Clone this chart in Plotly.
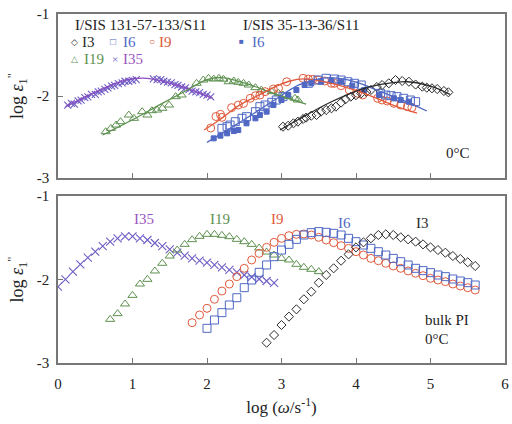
import plotly.graph_objects as go

# ---------------- colours ----------------
C_I3 = "#2b2b2b"
C_I6 = "#5068c4"
C_I9 = "#e05a3c"
C_I19 = "#5e9150"
C_I35_LINE = "#8a4cc0"
C_I35_MK = "#6f5cc4"
C_I35_TXT = "#9a55c0"

# ---------------- upper panel: I/SIS blends (markers + fit curves) ----------------
top_I35_x = [0.13, 0.18, 0.22, 0.27, 0.31, 0.36, 0.40, 0.45, 0.50, 0.54, 0.58, 0.63, 0.67,
             0.72, 0.76, 0.81, 0.86, 0.90, 0.95, 1.00, 1.05, 1.28, 1.33, 1.38, 1.42, 1.47,
             1.52, 1.57, 1.61, 1.66, 1.71, 1.76, 1.80, 1.85, 1.90, 1.95, 2.00, 2.05]
top_I35_y = [-2.11, -2.09, -2.10, -2.06, -2.05, -2.02, -2.01, -1.98, -1.98, -1.95, -1.94, -1.92, -1.90,
             -1.88, -1.87, -1.85, -1.84, -1.82, -1.82, -1.81, -1.80, -1.79, -1.80, -1.80, -1.82, -1.83,
             -1.84, -1.86, -1.87, -1.89, -1.90, -1.92, -1.94, -1.95, -1.96, -1.98, -1.99, -2.01]
fit_I35_x = [0.10, 0.44, 0.89, 1.20, 1.64, 1.90, 2.08]
fit_I35_y = [-2.13, -1.98, -1.81, -1.785, -1.88, -1.965, -2.03]

top_I19_x = [0.64, 0.71, 0.78, 0.84, 0.95, 1.02, 1.13, 1.20, 1.26, 1.33, 1.40, 1.49, 1.58, 1.66,
             1.86, 1.95, 2.02, 2.09, 2.16, 2.22, 2.29, 2.36, 2.42, 2.49, 2.56, 2.65, 2.73, 2.87,
             2.96, 3.02, 3.09, 3.18, 3.22]
top_I19_y = [-2.435, -2.394, -2.354, -2.313, -2.232, -2.272, -2.191, -2.232, -2.179, -2.171, -2.150,
             -2.110, -2.008, -1.988, -1.845, -1.805, -1.784, -1.793, -1.784, -1.795, -1.826, -1.817,
             -1.833, -1.845, -1.866, -1.898, -1.927, -1.947, -1.967, -1.988, -2.008, -2.028, -2.049]
fit_I19_x = [0.60, 1.00, 1.40, 1.73, 2.00, 2.20, 2.50, 2.90, 3.33]
fit_I19_y = [-2.475, -2.29, -2.09, -1.93, -1.80, -1.775, -1.84, -1.97, -2.10]

top_I9_x = [2.05, 2.12, 2.18, 2.20, 2.33, 2.42, 2.49, 2.58, 2.65, 2.71, 2.78, 2.89, 2.96, 3.07,
            3.29, 3.36, 3.42, 3.49, 3.58, 3.67, 3.71, 3.80, 3.91, 4.02, 4.09, 4.29, 4.35, 4.42,
            4.51, 4.60, 4.69, 4.75]
top_I9_y = [-2.39, -2.25, -2.223, -2.26, -2.142, -2.11, -2.09, -2.028, -1.996, -1.988, -1.947,
            -1.915, -1.906, -1.826, -1.784, -1.793, -1.797, -1.805, -1.817, -1.845, -1.845, -1.874,
            -1.927, -1.967, -1.988, -2.028, -2.049, -2.061, -2.089, -2.110, -2.130, -2.142]
fit_I9_x = [1.96, 2.20, 2.42, 2.65, 2.87, 3.10, 3.30, 3.67, 4.11, 4.55, 4.82]
fit_I9_y = [-2.415, -2.27, -2.12, -2.01, -1.906, -1.82, -1.79, -1.845, -1.967, -2.13, -2.21]

top_I6_x = [2.20, 2.27, 2.31, 2.38, 2.47, 2.53, 2.65, 2.71, 2.78, 2.87, 2.93, 3.02,
            3.36, 3.49, 3.60, 3.71, 3.80, 3.89, 3.98, 4.07, 4.33, 4.40, 4.47, 4.55, 4.64,
            4.73, 4.80]
top_I6_y = [-2.394, -2.374, -2.354, -2.313, -2.272, -2.252, -2.191, -2.130, -2.110, -2.077,
            -2.049, -2.008, -1.845, -1.805, -1.784, -1.793, -1.805, -1.826, -1.845, -1.866,
            -1.967, -1.988, -1.996, -2.008, -2.028, -2.049, -2.069]
# I/SIS 35-13-36/S11, I6 (filled squares)
top_I6b_x = [2.09, 2.18, 2.27, 2.36, 2.42, 2.53, 2.65, 2.71, 2.80, 2.89, 3.00, 3.09, 3.20,
             3.31, 3.40, 3.53, 3.67, 3.80, 3.95, 4.11, 4.31, 4.51, 4.60, 4.71]
top_I6b_y = [-2.516, -2.484, -2.455, -2.427, -2.415, -2.333, -2.272, -2.232, -2.191, -2.110,
             -2.049, -1.988, -1.927, -1.866, -1.845, -1.826, -1.817, -1.826, -1.874, -1.927,
             -1.988, -2.028, -2.049, -2.069]
fit_I6_x = [2.00, 2.42, 2.87, 3.22, 3.45, 3.67, 4.00, 4.33, 4.65, 4.95]
fit_I6_y = [-2.565, -2.333, -2.07, -1.87, -1.80, -1.776, -1.83, -1.947, -2.06, -2.183]

top_I3_x = [3.02, 3.09, 3.16, 3.22, 3.29, 3.33, 3.40, 3.47, 3.53, 3.60, 3.67, 3.73, 3.80,
            3.86, 3.93, 4.00, 4.07, 4.14, 4.20, 4.28, 4.35, 4.44, 4.53, 4.62, 4.71, 4.80,
            4.89, 4.95, 5.02, 5.09, 5.18, 5.24]
top_I3_y = [-2.374, -2.362, -2.333, -2.313, -2.280, -2.264, -2.240, -2.232, -2.191, -2.171,
            -2.150, -2.130, -2.080, -2.040, -2.008, -1.990, -1.967, -1.950, -1.927, -1.890,
            -1.866, -1.845, -1.805, -1.817, -1.826, -1.860, -1.886, -1.898, -1.906, -1.915,
            -1.939, -1.955]
fit_I3_x = [2.98, 3.22, 3.67, 4.11, 4.40, 4.69, 5.00, 5.26]
fit_I3_y = [-2.415, -2.29, -2.07, -1.906, -1.85, -1.826, -1.88, -1.98]

# ---------------- lower panel: bulk PI ----------------
bulk_I35_x = [round(0.1 * i, 1) for i in range(0, 30)]          # 0.0 .. 2.9
bulk_I35_y = [-2.086, -1.998, -1.906, -1.818, -1.739, -1.667, -1.599, -1.547, -1.507, -1.483,
              -1.483, -1.507, -1.527, -1.563, -1.599, -1.639, -1.679, -1.715, -1.747, -1.775,
              -1.799, -1.826, -1.854, -1.886, -1.914, -1.946, -1.970, -1.994, -2.018, -2.040]

bulk_I19_x = [round(0.1 * i, 1) for i in range(7, 36)]          # 0.7 .. 3.5
bulk_I19_y = [-2.477, -2.409, -2.293, -2.190, -2.054, -1.998, -1.898, -1.806, -1.719, -1.647,
              -1.579, -1.523, -1.483, -1.459, -1.459, -1.471, -1.487, -1.519, -1.547, -1.579,
              -1.623, -1.671, -1.707, -1.747, -1.766, -1.818, -1.854, -1.878, -1.906]

bulk_I9_x = [round(0.1 * i, 1) for i in range(18, 57)]          # 1.8 .. 5.6
bulk_I9_y = [-2.517, -2.425, -2.345, -2.237, -2.138, -2.054, -1.966, -1.866, -1.766, -1.687,
             -1.615, -1.555, -1.507, -1.475, -1.459, -1.455, -1.467, -1.495, -1.527, -1.559,
             -1.595, -1.627, -1.667, -1.707, -1.747, -1.775, -1.806, -1.838, -1.866, -1.898,
             -1.926, -1.954, -1.986, -2.006, -2.026, -2.054, -2.078, -2.098, -2.126]

bulk_I6_x = [round(0.1 * i, 1) for i in range(20, 57)]          # 2.0 .. 5.6
bulk_I6_y = [-2.585, -2.485, -2.397, -2.305, -2.218, -2.098, -2.006, -1.914, -1.826, -1.727,
             -1.647, -1.579, -1.519, -1.467, -1.439, -1.427, -1.435, -1.447, -1.467, -1.507,
             -1.547, -1.587, -1.627, -1.667, -1.707, -1.747, -1.787, -1.826, -1.866, -1.894,
             -1.918, -1.946, -1.966, -1.994, -2.018, -2.038, -2.066]

bulk_I3_x = [round(0.1 * i, 1) for i in range(28, 57)]          # 2.8 .. 5.6
bulk_I3_y = [-2.757, -2.665, -2.545, -2.445, -2.357, -2.237, -2.146, -2.038, -1.946, -1.866,
             -1.775, -1.699, -1.615, -1.555, -1.507, -1.467, -1.459, -1.467, -1.495, -1.519,
             -1.547, -1.579, -1.615, -1.647, -1.679, -1.719, -1.754, -1.794, -1.838]

x_ticks = [0, 1, 2, 3, 4, 5, 6]
y_ticks = [-1, -2, -3]
y_ticktext = ["-1", "-2", "-3"]

SERIF = "Liberation Serif, Times New Roman, serif"

fig = go.Figure()


def marks(x, y, sym, color, size, axis, lw=1.0):
    fig.add_trace(go.Scatter(
        x=x, y=y, mode="markers", xaxis="x" if axis == 1 else "x2",
        yaxis="y" if axis == 1 else "y2",
        marker=dict(symbol=sym, size=size, color=color, line=dict(color=color, width=lw)),
        showlegend=False, hoverinfo="skip"))


def fit(x, y, color):
    fig.add_trace(go.Scatter(
        x=x, y=y, mode="lines", xaxis="x", yaxis="y",
        line=dict(color=color, width=1.3, shape="spline", smoothing=1.0),
        showlegend=False, hoverinfo="skip"))


# upper panel
marks(top_I35_x, top_I35_y, "x-thin-open", C_I35_MK, 7, 1, 1.1)
marks(top_I19_x, top_I19_y, "triangle-up-open", C_I19, 8, 1)
marks(top_I9_x, top_I9_y, "circle-open", C_I9, 8, 1)
marks(top_I6_x, top_I6_y, "square-open", C_I6, 8, 1)
marks(top_I6b_x, top_I6b_y, "square", C_I6, 5, 1)
marks(top_I3_x, top_I3_y, "diamond-open", C_I3, 7, 1)
fit(fit_I35_x, fit_I35_y, C_I35_LINE)
fit(fit_I19_x, fit_I19_y, C_I19)
fit(fit_I9_x, fit_I9_y, C_I9)
fit(fit_I6_x, fit_I6_y, C_I6)
fit(fit_I3_x, fit_I3_y, C_I3)

# lower panel
marks(bulk_I35_x, bulk_I35_y, "x-thin-open", C_I35_MK, 8, 2, 1.1)
marks(bulk_I19_x, bulk_I19_y, "triangle-up-open", C_I19, 8, 2)
marks(bulk_I9_x, bulk_I9_y, "circle-open", C_I9, 8, 2)
marks(bulk_I6_x, bulk_I6_y, "square-open", C_I6, 8, 2)
marks(bulk_I3_x, bulk_I3_y, "diamond-open", C_I3, 7, 2)

axis_common = dict(
    showline=True, linecolor="#777777", linewidth=1.5, mirror=True,
    ticks="inside", ticklen=5, tickcolor="#777777", tickwidth=1.2,
    showgrid=False, zeroline=False,
    tickfont=dict(family=SERIF, size=15, color="#222222"),
)

fig.update_layout(
    width=512, height=424,
    margin=dict(l=58, r=3, t=14, b=61),
    paper_bgcolor="white", plot_bgcolor="white",
    font=dict(family=SERIF, color="#222222"),
    xaxis=dict(range=[0, 6], tickvals=x_ticks, showticklabels=False,
               anchor="y", **axis_common),
    yaxis=dict(range=[-3, -1], tickvals=y_ticks, ticktext=y_ticktext,
               domain=[0.530, 1.0], anchor="x", ticklabelstandoff=4,
               title=dict(text="log <i>ε</i><sub>1</sub><sup>\"</sup>",
                          font=dict(family=SERIF, size=18), standoff=8),
               **axis_common),
    xaxis2=dict(range=[0, 6], tickvals=x_ticks, anchor="y2",
                ticklabelstandoff=6,
                title=dict(text="log (<i>ω</i>/s<sup>-1</sup>)",
                           font=dict(family=SERIF, size=17), standoff=10),
                **axis_common),
    yaxis2=dict(range=[-3, -1], tickvals=y_ticks, ticktext=y_ticktext,
                domain=[0.0, 0.4785], anchor="x2", ticklabelstandoff=4,
                title=dict(text="log <i>ε</i><sub>1</sub><sup>\"</sup>",
                           font=dict(family=SERIF, size=18), standoff=8),
                **axis_common),
)


def note(text, x, y, xref, yref, color="#222222", size=15, xanchor="left"):
    fig.add_annotation(text=text, x=x, y=y, xref=xref, yref=yref, showarrow=False,
                       xanchor=xanchor, yanchor="middle",
                       font=dict(family=SERIF, size=size, color=color))


# key of the upper panel
ROW1, ROW2, ROW3 = -1.134, -1.341, -1.549
note("I/SIS 131-57-133/S11", 0.20, ROW1, "x", "y")
note("◇", 0.226, ROW2, "x", "y", C_I3, 9, "center")
note("I3", 0.29, ROW2, "x", "y", C_I3)
note("□", 0.74, ROW2, "x", "y", C_I6, 10, "center")
note("I6", 0.85, ROW2, "x", "y", C_I6)
note("○", 1.26, ROW2, "x", "y", C_I9, 10, "center")
note("I9", 1.33, ROW2, "x", "y", C_I9)
note("△", 0.226, ROW3, "x", "y", C_I19, 9, "center")
note("I19", 0.32, ROW3, "x", "y", C_I19)
note("×", 0.76, ROW3, "x", "y", C_I35_MK, 11, "center")
note("I35", 0.85, ROW3, "x", "y", C_I35_TXT)
note("I/SIS 35-13-36/S11", 2.45, ROW1, "x", "y")
note("■", 2.465, ROW2, "x", "y", C_I6, 8, "center")
note("I6", 2.58, ROW2, "x", "y", C_I6)
note("0°C", 5.18, -2.70, "x", "y")

# labels of the lower panel
note("I35", 1.15, -1.27, "x2", "y2", C_I35_TXT, xanchor="center")
note("I19", 2.17, -1.27, "x2", "y2", C_I19, xanchor="center")
note("I9", 2.95, -1.27, "x2", "y2", C_I9, xanchor="center")
note("I6", 3.84, -1.32, "x2", "y2", C_I6, xanchor="center")
note("I3", 4.89, -1.32, "x2", "y2", C_I3, xanchor="center")
note("bulk PI", 4.9, -2.48, "x2", "y2")
note("0°C", 4.9, -2.71, "x2", "y2")

fig.write_html("out.html")
